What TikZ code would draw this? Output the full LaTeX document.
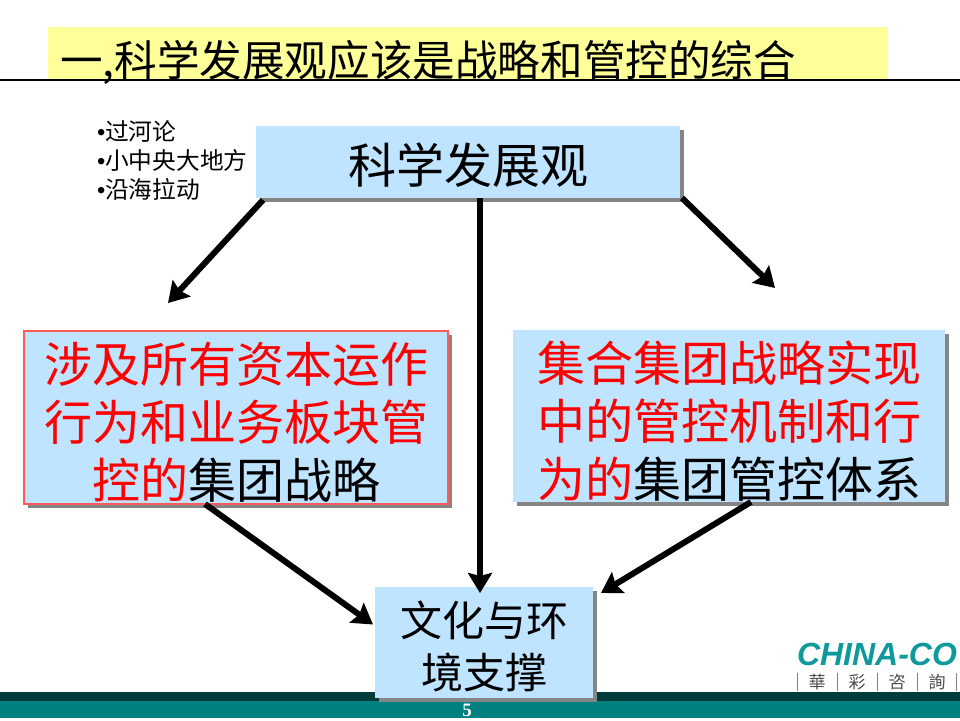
\documentclass[tikz,border=0pt]{standalone}
\usepackage{fontspec}
\setmainfont{Noto Sans CJK SC}
\newfontfamily\tradfont{Noto Sans CJK TC}
\newfontfamily\logofont{Liberation Sans}
\newfontfamily\pagefont{Liberation Serif}
\usepackage{xcolor}
\usetikzlibrary{arrows.meta,shadows}
\definecolor{panelblue}{HTML}{BFE4FF}
\definecolor{titleyellow}{HTML}{FFFF99}
\definecolor{bandteal}{HTML}{008080}
\definecolor{banddark}{HTML}{003C3C}
\definecolor{logoteal}{HTML}{0E9A9C}
\newcommand{\fsize}[2]{\fontsize{#1}{#2}\selectfont}
\newcommand{\lowered}[2]{\raisebox{-#1}[\height][\depth]{#2}}
\newcommand{\dotitem}{{\logofont•}}
\begin{document}
\begin{tikzpicture}[x=1pt,y=1pt]
        \tikzstyle{every node}+=[inner sep=0pt,outer sep=0pt]
        \tikzstyle{panel}=[fill=panelblue,align=center,drop shadow={shadow xshift=3.5pt,shadow yshift=-3.5pt,fill=black!48,opacity=1}]
        \tikzstyle{flow}=[black,line width=6pt,-{Stealth[length=20pt,width=24pt,inset=3pt]}]
        \useasboundingbox (0,0) rectangle (960,-720);
        \fill [white] (0,0) rectangle (960,-720);
        \node (titlebar) [fill=titleyellow,minimum width=840pt,minimum height=52pt] at (468,-53) {};
        \node (titletext) [anchor=west] at (60,-62) {\fsize{42.6}{50}一,科学发展观应该是战略和管控的综合};
        \draw [black,line width=2.5pt] (0,-80) -- (960,-80);
        \node (notes) [anchor=north west,align=left,font=\fsize{23.7}{29}] at (97,-121) {\dotitem 过河论\\\dotitem 小中央大地方\\\dotitem 沿海拉动};
        \node (topbox) [panel,font=\fsize{48}{58},minimum width=424pt,minimum height=72pt] at (468,-162) {\lowered{3pt}{科学发展观}};
        \node (strategybox) [panel,font=\fsize{48}{58},draw=red!65,line width=1.5pt,minimum width=424pt,minimum height=173pt] at (236,-417.5) {\lowered{5pt}{\color{red}涉及所有资本运作}\\\lowered{5pt}{\color{red}行为和业务板块管}\\\lowered{5pt}{\color{red}控的\color{black}集团战略}};
        \node (controlbox) [panel,font=\fsize{48}{58},minimum width=432pt,minimum height=172pt] at (729,-416) {\lowered{5pt}{\color{red}集合集团战略实现}\\\lowered{5pt}{\color{red}中的管控机制和行}\\\lowered{5pt}{\color{red}为的\color{black}集团管控体系}};
        \fill [banddark] (0,-692) rectangle (960,-701);
        \fill [bandteal] (0,-701) rectangle (960,-717.5);
        \node (envbox) [panel,font=\fsize{42}{52},minimum width=218pt,minimum height=111pt] at (484,-642.5) {\lowered{4pt}{文化与环}\\\lowered{4pt}{境支撑}};
        \node (pagenum) at (467,-710) {\pagefont\bfseries\fsize{19}{19}\color{white}5};
        \coordinate (leftend) at (168,-303);
        \coordinate (rightend) at (775,-288);
        \draw [flow] ([xshift=7pt,yshift=-2pt]topbox.south west) -- (leftend);
        \draw [flow] ([xshift=12pt]topbox.south) -- ([xshift=-4pt,yshift=-6pt]envbox.north);
        \draw [flow] ([xshift=2pt]topbox.south east) -- (rightend);
        \draw [flow] ([xshift=-31pt]strategybox.south) -- ([xshift=-2pt,yshift=18pt]envbox.west);
        \draw [flow] ([xshift=22pt]controlbox.south) -- ([xshift=8pt,yshift=-6pt]envbox.north east);
        \node (logoname) [anchor=west] at (797,-654) {\logofont\bfseries\itshape\fsize{32}{32}\color{logoteal}CHINA-CO};
        \foreach \x/\ch in {817/華,857/彩,897/咨,937/詢}
                \node (logo\x) at (\x,-682) {\tradfont\fsize{17}{17}\color{black!70}\ch};
        \foreach \x in {797,837,877,917,956}
                \draw [black!50,line width=0.8pt] (\x,-673) -- (\x,-691);
\end{tikzpicture}
\end{document}
